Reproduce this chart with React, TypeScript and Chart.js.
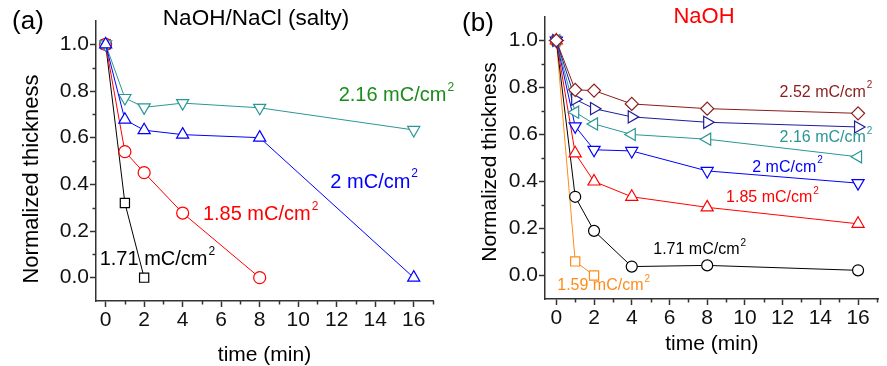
import React, { useEffect, useRef } from 'react';
import { Chart, registerables } from 'chart.js';

Chart.register(...registerables);

// ---------- data ----------
const timeMin = [0, 1, 2, 4, 8, 16];

// panel (a) NaOH/NaCl (salty)
const a171 = [1.0, 0.32, 0.0];
const a185 = [1.0, 0.54, 0.45, 0.277, 0.0];
const a200 = [1.0, 0.677, 0.632, 0.613, 0.6, 0.0];
const a216 = [1.0, 0.77, 0.73, 0.748, 0.728, 0.633];

// panel (b) NaOH
const b159 = [1.0, 0.06, 0.0];
const b171 = [1.0, 0.335, 0.19, 0.038, 0.043, 0.022];
const b185 = [1.0, 0.52, 0.4, 0.335, 0.29, 0.22];
const b200 = [1.0, 0.635, 0.535, 0.53, 0.445, 0.393];
const b216 = [1.0, 0.695, 0.645, 0.6, 0.58, 0.505];
const b235 = [1.0, 0.75, 0.71, 0.675, 0.652, 0.632];
const b252 = [1.0, 0.79, 0.787, 0.73, 0.71, 0.69];

const xTicks = [0, 2, 4, 6, 8, 10, 12, 14, 16];
const xMinor = [1, 3, 5, 7, 9, 11, 13, 15, 17];
const yTicks = [0, 0.2, 0.4, 0.6, 0.8, 1.0];
const yMinor = [0.1, 0.3, 0.5, 0.7, 0.9];

const chargeA = ['1.71', '1.85', '2', '2.16'];
const chargeB = ['1.59', '1.71', '1.85', '2', '2.16', '2.52'];

// ---------- styles ----------
const FONT = "'Liberation Sans', Arial, sans-serif";
const AXIS = '#333333';
const C_TEAL = '#2a9696';
const C_NAVY = '#1c1c9c';
const C_WINE = '#8b1c1c';
const C_ORANGE = '#ff8c1a';
const C_GREEN = '#1a8c1a';

type Ser = { data: number[]; color: string; style: string; rot: number; r: number };

function ds(s: Ser) {
  return {
    data: s.data.map((v, i) => ({ x: timeMin[i], y: v })),
    borderColor: s.color,
    borderWidth: 1,
    pointStyle: s.style,
    pointRotation: s.rot,
    pointRadius: s.r,
    pointBorderColor: s.color,
    pointBackgroundColor: '#ffffff',
    pointBorderWidth: 1.2,
    tension: 0,
    fill: false,
  };
}

const minorTicksPlugin = {
  id: 'minorTicks',
  afterDraw(chart: any, _a: any, opts: any) {
    const { ctx } = chart;
    const xs = chart.scales.x;
    const ys = chart.scales.y;
    ctx.save();
    ctx.strokeStyle = AXIS;
    ctx.lineWidth = 1.5;
    (opts.x || []).forEach((v: number) => {
      const px = Math.round(xs.getPixelForValue(v)) + 0.5;
      ctx.beginPath();
      ctx.moveTo(px, xs.top);
      ctx.lineTo(px, xs.top + 3.5);
      ctx.stroke();
    });
    (opts.y || []).forEach((v: number) => {
      const py = Math.round(ys.getPixelForValue(v)) + 0.5;
      ctx.beginPath();
      ctx.moveTo(ys.right, py);
      ctx.lineTo(ys.right - 3.5, py);
      ctx.stroke();
    });
    ctx.restore();
  },
};

const textPlugin = {
  id: 'texts',
  afterDraw(chart: any, _a: any, opts: any) {
    const { ctx } = chart;
    const xs = chart.scales.x;
    const ys = chart.scales.y;
    ctx.save();
    // curve labels with superscript
    (opts.labels || []).forEach((l: any) => {
      const px = xs.getPixelForValue(l.x);
      const py = ys.getPixelForValue(l.y);
      ctx.fillStyle = l.color;
      ctx.textBaseline = 'middle';
      ctx.textAlign = 'left';
      ctx.font = `${opts.size}px ${FONT}`;
      const main = `${l.text} mC/cm`;
      ctx.fillText(main, px, py);
      const w = ctx.measureText(main).width;
      ctx.font = `${Math.round(opts.size * 0.6)}px ${FONT}`;
      ctx.fillText('2', px + w + 1, py - opts.size * 0.42);
    });
    // panel title
    if (opts.title) {
      const t = opts.title;
      ctx.font = `${t.size}px ${FONT}`;
      ctx.fillStyle = t.color;
      ctx.textAlign = 'center';
      ctx.textBaseline = 'middle';
      ctx.fillText(t.text, t.px, t.py);
    }
    if (opts.tag) {
      const t = opts.tag;
      ctx.font = `${t.size}px ${FONT}`;
      ctx.fillStyle = '#000';
      ctx.textAlign = 'center';
      ctx.textBaseline = 'middle';
      ctx.fillText(t.text, t.px, t.py);
    }
    if (opts.ytitle) {
      const t = opts.ytitle;
      ctx.translate(t.px, t.py);
      ctx.rotate(-Math.PI / 2);
      ctx.font = `${t.size}px ${FONT}`;
      ctx.fillStyle = '#000';
      ctx.textAlign = 'center';
      ctx.textBaseline = 'middle';
      ctx.fillText(t.text, 0, 0);
    }
    ctx.restore();
  },
};

function makeConfig(p: any) {
  return {
    type: 'line',
    data: { datasets: p.datasets },
    options: {
      animation: false,
      responsive: false,
      devicePixelRatio: 1,
      layout: { padding: { left: 0, right: p.padRight, top: p.padTop, bottom: 0 } },
      plugins: {
        legend: { display: false },
        tooltip: { enabled: false },
        minorTicks: { x: xMinor, y: yMinor },
        texts: p.texts,
      },
      scales: {
        x: {
          type: 'linear',
          min: p.xmin,
          max: p.xmax,
          afterBuildTicks: (s: any) => {
            s.ticks = xTicks.map((v) => ({ value: v }));
          },
          afterFit: (s: any) => {
            s.height = p.xAxisH;
          },
          grid: { drawOnChartArea: false, drawTicks: true, tickLength: 6, tickColor: AXIS, tickWidth: 1.5 },
          border: { display: true, color: AXIS, width: 1.5 },
          ticks: {
            color: '#111',
            font: { family: FONT, size: 21 },
            padding: 1,
            maxRotation: 0,
            autoSkip: false,
            callback: (v: any) => String(v),
          },
          title: {
            display: true,
            text: 'time (min)',
            color: '#000',
            font: { family: FONT, size: 21, lineHeight: 1 },
            padding: { top: 0, bottom: p.xTitlePad },
          },
        },
        y: {
          type: 'linear',
          min: -0.1,
          max: 1.1,
          afterBuildTicks: (s: any) => {
            s.ticks = yTicks.map((v) => ({ value: v }));
          },
          afterFit: (s: any) => {
            s.width = p.yAxisW;
          },
          grid: { drawOnChartArea: false, drawTicks: true, tickLength: 6, tickColor: AXIS, tickWidth: 1.5 },
          border: { display: true, color: AXIS, width: 1.5 },
          ticks: {
            color: '#111',
            font: { family: FONT, size: 21 },
            padding: 1,
            autoSkip: false,
            callback: (v: any) => Number(v).toFixed(1),
          },
        },
      },
    },
    plugins: [minorTicksPlugin, textPlugin],
  };
}

const configA = () =>
  makeConfig({
    datasets: [
      ds({ data: a200, color: '#0000ff', style: 'triangle', rot: 0, r: 7 }),
      ds({ data: a216, color: C_TEAL, style: 'triangle', rot: 180, r: 7 }),
      ds({ data: a185, color: '#ff0000', style: 'circle', r: 6, rot: 0 }),
      ds({ data: a171, color: '#000000', style: 'rect', r: 6.5, rot: 0 }),
    ],
    xmin: -0.5,
    xmax: 17,
    padRight: 37,
    padTop: 21,
    xAxisH: 65,
    yAxisW: 96,
    xTitlePad: 0.5,
    texts: {
      size: 20,
      labels: [
        { text: chargeA[3], x: 12.1, y: 0.78, color: C_GREEN },
        { text: chargeA[2], x: 11.67, y: 0.41, color: '#0000ff' },
        { text: chargeA[1], x: 5.05, y: 0.27, color: '#ff0000' },
        { text: chargeA[0], x: -0.31, y: 0.077, color: '#000000' },
      ],
      title: { text: 'NaOH/NaCl (salty)', px: 256, py: 19, size: 22.5, color: '#000' },
      tag: { text: '(a)', px: 28, py: 22, size: 26 },
      ytitle: { text: 'Normalized thickness', px: 31.5, py: 179, size: 22 },
    },
  });

const configB = () =>
  makeConfig({
    datasets: [
      ds({ data: b252, color: C_WINE, style: 'rectRot', rot: 0, r: 6.5 }),
      ds({ data: b235, color: C_NAVY, style: 'triangle', rot: 90, r: 7 }),
      ds({ data: b216, color: C_TEAL, style: 'triangle', rot: -90, r: 7 }),
      ds({ data: b200, color: '#0000ff', style: 'triangle', rot: 180, r: 7 }),
      ds({ data: b185, color: '#ff0000', style: 'triangle', rot: 0, r: 7 }),
      ds({ data: b171, color: '#000000', style: 'circle', rot: 0, r: 5.5 }),
      ds({ data: b159, color: C_ORANGE, style: 'rect', rot: 0, r: 6.5 }),
    ],
    xmin: -0.6,
    xmax: 17.1,
    padRight: 1,
    padTop: 17,
    xAxisH: 67,
    yAxisW: 102,
    xTitlePad: 11.5,
    texts: {
      size: 16,
      labels: [
        { text: chargeB[5], x: 11.84, y: 0.78, color: C_WINE },
        { text: chargeB[4], x: 11.84, y: 0.587, color: C_TEAL },
        { text: chargeB[3], x: 10.39, y: 0.46, color: '#0000ff' },
        { text: chargeB[2], x: 9.0, y: 0.33, color: '#ff0000' },
        { text: chargeB[1], x: 5.14, y: 0.11, color: '#000000' },
        { text: chargeB[0], x: 0.05, y: -0.043, color: C_ORANGE },
      ],
      title: { text: 'NaOH', px: 261, py: 17, size: 22, color: '#ff0000' },
      tag: { text: '(b)', px: 35, py: 24, size: 26 },
      ytitle: { text: 'Normalized thickness', px: 47, py: 162, size: 21 },
    },
  });

function Panel({ left, width, make }: { left: number; width: number; make: () => any }) {
  const ref = useRef<HTMLCanvasElement | null>(null);
  useEffect(() => {
    if (!ref.current) return;
    const chart = new Chart(ref.current, make());
    return () => chart.destroy();
  }, []);
  return (
    <canvas
      ref={ref}
      width={width}
      height={366}
      style={{ position: 'absolute', left, top: 0, width, height: 366 }}
    />
  );
}

export default function App() {
  return (
    <div style={{ position: 'fixed', left: 0, top: 0, width: 887, height: 366, background: '#fff', overflow: 'hidden' }}>
      <Panel left={443} width={444} make={configB} />
      <Panel left={0} width={470} make={configA} />
    </div>
  );
}
